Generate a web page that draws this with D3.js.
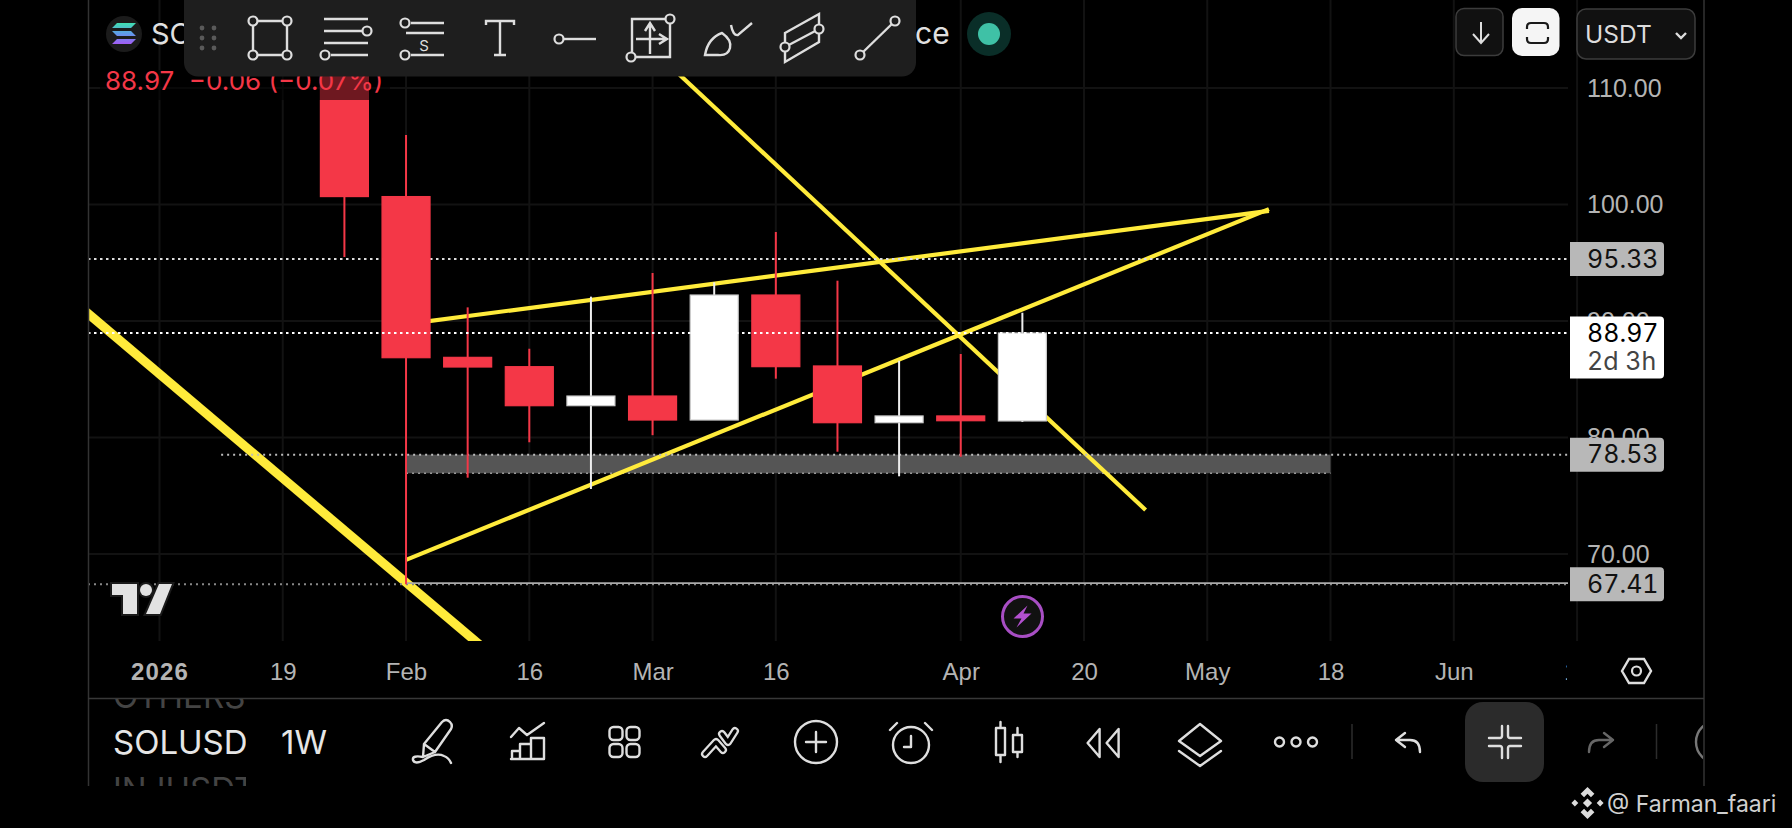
<!DOCTYPE html>
<html>
<meta charset="UTF-8">
    <head>
        <script src="https://d3js.org/d3.v7.min.js"></script>
        <style>
            body { margin: 0; background: #000; overflow: hidden; }
            svg { display: block; font-family: Inter, "Liberation Sans", sans-serif; }
            .price { font-variant-numeric: tabular-nums; font-size: 25px; }
        </style>
    </head>
    <body>
    </body>
    <script>
        // weekly candles
        let weeks  = ["2026-01-26","2026-02-02","2026-02-09","2026-02-16","2026-02-23","2026-03-02","2026-03-09","2026-03-16","2026-03-23","2026-03-30","2026-04-06","2026-04-13"];
        let opens  = [118.00,100.68,86.88,86.08,82.73,83.56,81.50,92.23,86.14,81.27,81.85,81.42];
        let highs  = [120.00,105.97,91.17,87.62,92.09,94.12,93.32,97.64,93.46,86.59,87.17,90.71];
        let lows   = [95.50,67.41,76.55,79.59,75.58,80.20,81.50,85.05,78.78,76.67,78.35,81.33];
        let closes = [100.68,86.85,86.05,82.73,83.56,81.50,92.23,86.08,81.27,81.85,81.44,88.97];

        let priceTicks = [70, 80, 90, 100, 110];
        let timeTicks  = ["2026-01-05","2026-01-19","2026-02-02","2026-02-16","2026-03-02","2026-03-16","2026-04-06","2026-04-20","2026-05-04","2026-05-18","2026-06-01","2026-06-15"];
        let timeLabels = ["2026","19","Feb","16","Mar","16","Apr","20","May","18","Jun","15"];

        // drawings: [date, price, date, price]
        let thinLines = [
            ["2026-02-02",89.73,"2026-05-11",99.45],
            ["2026-02-02",69.50,"2026-05-11",99.60],
            ["2026-03-02",113.30,"2026-04-27",73.78]
        ];
        let thickLine = ["2025-12-22",94.40,"2026-03-02",49.66];
        let zoneDates = ["2026-02-02","2026-05-18"];
        let zonePrices = [78.53,76.93];

        let lastPrice = 88.97;
        let level95 = 95.33, level78 = 78.53, level67 = 67.41;
        let level78Start = "2026-01-12";

        let parse = d3.utcParse("%Y-%m-%d");
        let red = "#f43747", yellow = "#ffeb3b", iconColor = "#dedede";

        let svg = d3.select("body").append("svg").attr("width", 1792).attr("height", 828);

        let x = d3.scaleUtc().domain([parse("2026-01-05"), parse("2026-06-01")]).range([159.5, 1453.8]);
        let y = d3.scaleLinear().domain([70, 110]).range([554, 88]);

        let defs = svg.append("defs");
        defs.append("clipPath").attr("id", "pane").append("rect").attr("x", 88).attr("y", 0).attr("width", 1616).attr("height", 641);
        defs.append("clipPath").attr("id", "axisClip").append("rect").attr("x", 88).attr("y", 642).attr("width", 1479).attr("height", 56);
        defs.append("clipPath").attr("id", "symbolClip").append("rect").attr("x", 100).attr("y", 699).attr("width", 146).attr("height", 87);
        defs.append("clipPath").attr("id", "rightClip").append("rect").attr("x", 1660).attr("y", 700).attr("width", 43).attr("height", 85);
        let fade = defs.append("linearGradient").attr("id", "solana").attr("x1", 0).attr("y1", 0).attr("x2", 0).attr("y2", 1);
        fade.append("stop").attr("offset", "0%").attr("stop-color", "#3fe0b0");
        fade.append("stop").attr("offset", "50%").attr("stop-color", "#5f9be8");
        fade.append("stop").attr("offset", "100%").attr("stop-color", "#a25cf5");

        function drawGrid() {
            let g = svg.append("g").attr("clip-path", "url(#pane)");
            g.selectAll(".vgrid").data(timeTicks).join("line")
                .attr("x1", d => x(parse(d))).attr("x2", d => x(parse(d)))
                .attr("y1", 0).attr("y2", 641)
                .attr("stroke", "#121212").attr("stroke-width", 2);
            g.selectAll(".hgrid").data(priceTicks).join("line")
                .attr("x1", 88).attr("x2", 1568)
                .attr("y1", d => y(d)).attr("y2", d => y(d))
                .attr("stroke", "#121212").attr("stroke-width", 2);
        }

        function drawDrawings() {
            let g = svg.append("g").attr("clip-path", "url(#pane)");

            // support zone
            g.append("rect")
                .attr("x", x(parse(zoneDates[0]))).attr("y", y(zonePrices[0]))
                .attr("width", x(parse(zoneDates[1])) - x(parse(zoneDates[0])))
                .attr("height", y(zonePrices[1]) - y(zonePrices[0]))
                .attr("fill", "#555");
            g.append("line")
                .attr("x1", x(parse(zoneDates[0]))).attr("x2", x(parse(zoneDates[1])))
                .attr("y1", y(zonePrices[1])).attr("y2", y(zonePrices[1]))
                .attr("stroke", "#999").attr("stroke-width", 1.5).attr("stroke-dasharray", "2 4");

            g.selectAll(".thin").data(thinLines).join("line")
                .attr("x1", d => x(parse(d[0]))).attr("y1", d => y(d[1]))
                .attr("x2", d => x(parse(d[2]))).attr("y2", d => y(d[3]))
                .attr("stroke", yellow).attr("stroke-width", 4.2);

            g.append("line")
                .attr("x1", x(parse(thickLine[0]))).attr("y1", y(thickLine[1]))
                .attr("x2", x(parse(thickLine[2]))).attr("y2", y(thickLine[3]))
                .attr("stroke", yellow).attr("stroke-width", 9);

            // horizontal levels, these sit under the candles
            g.append("line").attr("x1", 88).attr("x2", 1568).attr("y1", y(level95)).attr("y2", y(level95))
                .attr("stroke", "#ddd").attr("stroke-width", 2).attr("stroke-dasharray", "2.5 3.5");
            g.append("line").attr("x1", x(parse(level78Start))).attr("x2", 1568).attr("y1", y(level78)).attr("y2", y(level78))
                .attr("stroke", "#bbb").attr("stroke-width", 2).attr("stroke-dasharray", "2 4");
            g.append("line").attr("x1", 88).attr("x2", 1568).attr("y1", y(level67)).attr("y2", y(level67))
                .attr("stroke", "#888").attr("stroke-width", 2).attr("stroke-dasharray", "2 4");
            g.append("line").attr("x1", x(parse(weeks[1]))).attr("x2", 1568).attr("y1", y(level67) - 1).attr("y2", y(level67) - 1)
                .attr("stroke", "#aaa").attr("stroke-width", 1.6);
        }

        function drawCandles() {
            let candles = weeks.map((w, i) => ({ date: parse(w), open: opens[i], high: highs[i], low: lows[i], close: closes[i] }));
            let g = svg.append("g").attr("clip-path", "url(#pane)");
            let bodyWidth = 48;

            g.selectAll(".wick").data(candles).join("line")
                .attr("x1", d => x(d.date)).attr("x2", d => x(d.date))
                .attr("y1", d => y(d.high)).attr("y2", d => y(d.low))
                .attr("stroke", d => d.close >= d.open ? "#eee" : red)
                .attr("stroke-width", 2);

            g.selectAll(".body").data(candles).join("rect")
                .attr("x", d => x(d.date) - bodyWidth / 2)
                .attr("width", bodyWidth)
                .attr("y", d => y(Math.max(d.open, d.close)))
                .attr("height", d => Math.abs(y(d.open) - y(d.close)))
                .attr("fill", d => d.close >= d.open ? "#fff" : red)
                .attr("stroke", d => d.close >= d.open ? "#ccc" : red)
                .attr("stroke-width", 1.2);

            // last price goes over the candles
            g.append("line").attr("x1", 88).attr("x2", 1568).attr("y1", y(lastPrice)).attr("y2", y(lastPrice))
                .attr("stroke", "#fff").attr("stroke-width", 2).attr("stroke-dasharray", "2.5 3.5");
        }

        function drawAxes() {
            let priceAxis = d3.axisRight(y).tickValues(priceTicks).tickFormat(d3.format(".2f")).tickSize(0).tickPadding(0);
            let pg = svg.append("g").attr("transform", "translate(1587,0)").call(priceAxis);
            pg.select(".domain").remove();
            pg.selectAll("text").attr("fill", "#b4b4b4").attr("class", "price");

            let timeAxis = d3.axisBottom(x).tickValues(timeTicks.map(parse))
                .tickFormat((d, i) => timeLabels[i]).tickSize(0).tickPadding(0);
            let tg = svg.append("g").attr("clip-path", "url(#axisClip)")
                .append("g").attr("transform", "translate(0,663)").call(timeAxis);
            tg.select(".domain").remove();
            tg.selectAll("text").attr("fill", "#b4b4b4").attr("font-size", 24)
                .attr("font-weight", (d, i) => i == 0 ? 700 : 400)
                .attr("letter-spacing", (d, i) => i == 0 ? 1.2 : 0);

            // price tags on the scale
            let tags = [level95, lastPrice, level78, level67];
            let tagGroup = svg.append("g");
            tags.forEach(v => {
                let live = v == lastPrice;
                let h = live ? 62 : 34;
                let top = y(v) - (live ? 16.5 : 17);
                tagGroup.append("path")
                    .attr("d", `M1570,${top}H1660a4,4 0 0 1 4,4V${top + h - 4}a4,4 0 0 1 -4,4H1570Z`)
                    .attr("fill", live ? "#fff" : "#b8b8b8");
                tagGroup.append("text").attr("x", 1587).attr("y", y(v)).attr("dy", "0.35em").attr("class", "price")
                    .attr("fill", live ? "#000" : "#111").text(v.toFixed(2));
            });
            tagGroup.append("text").attr("x", 1587).attr("y", y(lastPrice) + 28.5).attr("dy", "0.35em").attr("class", "price")
                .attr("fill", "#444").text("2d 3h");
        }

        function drawFrame() {
            svg.append("line").attr("x1", 88.5).attr("x2", 88.5).attr("y1", 0).attr("y2", 786).attr("stroke", "#333").attr("stroke-width", 1.5);
            svg.append("line").attr("x1", 1704).attr("x2", 1704).attr("y1", 0).attr("y2", 786).attr("stroke", "#333").attr("stroke-width", 1.5);
            svg.append("line").attr("x1", 88).attr("x2", 1704).attr("y1", 698.5).attr("y2", 698.5).attr("stroke", "#383838").attr("stroke-width", 1.5);
        }

        function drawLegend() {
            // darkens the candle behind the ohlc text
            svg.append("rect").attr("x", 100).attr("y", 70).attr("width", 290).attr("height", 30).attr("fill", "#000").attr("opacity", 0.55);
            svg.append("text").attr("x", 105).attr("y", 90).attr("font-size", 26).attr("fill", red).attr("xml:space", "preserve")
                .text("88.97  −0.06 (−0.07%)");

            let logo = svg.append("g").attr("transform", "translate(124,34)");
            logo.append("circle").attr("r", 18).attr("fill", "#1b1b1b");
            logo.append("path").attr("d", "M-7,-11H12L7,-6H-12ZM-12,-3H7L12,2H-7ZM-7,5H12L7,10H-12Z").attr("fill", "url(#solana)");
            svg.append("text").attr("x", 151).attr("y", 44).attr("font-size", 29).attr("fill", "#e0e0e0").text("SOLUSDT");

            svg.append("text").attr("x", 915).attr("y", 44).attr("font-size", 30).attr("fill", "#e0e0e0").text("ce");
            svg.append("circle").attr("cx", 989).attr("cy", 34).attr("r", 22).attr("fill", "#0a2e28");
            svg.append("circle").attr("cx", 989).attr("cy", 34).attr("r", 11).attr("fill", "#3fc1a6");

            // tradingview logo
            let tv = svg.append("g").attr("fill", "#e2e2e2").attr("stroke", "#1a1a1a").attr("stroke-width", 4).attr("paint-order", "stroke");
            tv.append("path").attr("d", "M112,584H137V614H123V595H112Z");
            tv.append("circle").attr("cx", 146).attr("cy", 590).attr("r", 6);
            tv.append("path").attr("d", "M159,584H172L160,614H146Z");

            // lightning badge
            let bolt = svg.append("g").attr("transform", "translate(1022.5,616.5)");
            bolt.append("circle").attr("r", 20).attr("fill", "#111").attr("stroke", "#a84ec4").attr("stroke-width", 3);
            bolt.append("path").attr("d", "M5,-11L-9,2H-1L-6,11L9,-3H1Z").attr("fill", "#b350d0");

            // top right buttons
            svg.append("rect").attr("x", 1456).attr("y", 8.5).attr("width", 47).attr("height", 47).attr("rx", 8).attr("fill", "#111").attr("stroke", "#3c3c3c").attr("stroke-width", 1.5);
            svg.append("path").attr("d", "M1481,22V42M1473,34L1481,43L1489,34").attr("fill", "none").attr("stroke", iconColor).attr("stroke-width", 2);
            svg.append("rect").attr("x", 1512).attr("y", 8).attr("width", 47.5).attr("height", 48).attr("rx", 10).attr("fill", "#f5f5f5");
            svg.append("path").attr("d", "M1527,29V27Q1527,23 1531,23H1544Q1548,23 1548,27V29M1527,37V39Q1527,43 1531,43H1544Q1548,43 1548,39V37").attr("fill", "none").attr("stroke", "#1a1a1a").attr("stroke-width", 2.2);
            svg.append("rect").attr("x", 1577).attr("y", 9).attr("width", 118).attr("height", 50).attr("rx", 9).attr("fill", "#111").attr("stroke", "#3c3c3c").attr("stroke-width", 1.5);
            svg.append("text").attr("x", 1585).attr("y", 43).attr("font-size", 24.5).attr("fill", "#ddd").text("USDT");
            svg.append("path").attr("d", "M1676,33L1681,38L1686,33").attr("fill", "none").attr("stroke", "#ddd").attr("stroke-width", 2.4);
        }

        function drawTopToolbar() {
            let g = svg.append("g");
            g.append("rect").attr("x", 184).attr("y", -14).attr("width", 732).attr("height", 90.5).attr("rx", 14).attr("fill", "#1e1e1e");

            [[202,28],[214,28],[202,38],[214,38],[202,48],[214,48]].forEach(p =>
                g.append("circle").attr("cx", p[0]).attr("cy", p[1]).attr("r", 2.4).attr("fill", "#5a5a5a"));

            let lines = [
                "M253,21H287V55H253Z",
                "M324,19H368M324,31H362M324,43H368M331,55H368",
                "M411,23H444M406,33H444M411,55H444",
                "M486,25V21H514V25M500,21V55M494,55H506",
                "M564,39H596",
                "M632,19H670V57H632Z",
                "M650,54V24M645,31L650,23L655,31M636,39H665M659,34L667,39L659,44",
                "M705,55Q708,38 722,33Q732,40 730,48Q728,56 718,55ZM731,25Q733,36 738,35L752,23",
                "M785,33L819,14V42L785,62ZM785,47L819,29",
                "M860,55L895,21"
            ];
            g.selectAll(".tool").data(lines).join("path")
                .attr("d", d => d).attr("fill", "none").attr("stroke", iconColor).attr("stroke-width", 2.4);

            let handles = [[253,21],[287,21],[253,55],[287,55],[367,31],[325,55],[405,23],[405,55],[559,39],[670,19],[631,57],[785,47],[819,29],[860,55],[895,21]];
            g.selectAll(".handle").data(handles).join("circle")
                .attr("cx", d => d[0]).attr("cy", d => d[1]).attr("r", 4.5)
                .attr("fill", "#1e1e1e").attr("stroke", iconColor).attr("stroke-width", 2.2);

            g.append("text").attr("x", 424).attr("y", 51).attr("text-anchor", "middle").attr("font-size", 15).attr("fill", iconColor).text("S");
        }

        function icon(cx, paths, color) {
            return svg.append("g").attr("transform", `translate(${cx},742)`)
                .append("path").attr("d", paths).attr("fill", "none")
                .attr("stroke", color || iconColor).attr("stroke-width", 2.4)
                .attr("stroke-linecap", "round").attr("stroke-linejoin", "round");
        }

        function drawBottomBar() {
            let clip = svg.append("g").attr("clip-path", "url(#symbolClip)");
            clip.append("text").attr("x", 113).attr("y", 708).attr("font-size", 33).attr("fill", "#444").text("OTHERS");
            clip.append("text").attr("x", 113).attr("y", 754).attr("font-size", 33).attr("fill", "#e6e6e6").text("SOLUSDT");
            clip.append("text").attr("x", 113).attr("y", 801).attr("font-size", 33).attr("fill", "#444").text("INJUSDT");
            svg.append("text").attr("x", 281).attr("y", 754).attr("font-size", 33).attr("fill", "#e6e6e6").text("1W");

            icon(432, "M10,-20Q14,-24 18,-20Q21,-17 19,-13L3,10L-9,15L-8,2ZM-8,2L3,10M-9,15Q-20,13 -19,18Q-17,23 -8,18Q4,10 12,14Q17,16 19,21");
            icon(528, "M-17,-5L-9,-14L-1,-7L16,-19M-16,17V9H-8V17M-8,17V2H3V17M3,17V-4H16V17H-17");
            icon(624.5, "M-15,-11a4,4 0 0 1 4,-4h5a4,4 0 0 1 4,4v5a4,4 0 0 1 -4,4h-5a4,4 0 0 1 -4,-4ZM2,-11a4,4 0 0 1 4,-4h5a4,4 0 0 1 4,4v5a4,4 0 0 1 -4,4h-5a4,4 0 0 1 -4,-4ZM-15,6a4,4 0 0 1 4,-4h5a4,4 0 0 1 4,4v5a4,4 0 0 1 -4,4h-5a4,4 0 0 1 -4,-4ZM2,6a4,4 0 0 1 4,-4h5a4,4 0 0 1 4,4v5a4,4 0 0 1 -4,4h-5a4,4 0 0 1 -4,-4Z");

            // the double tick is a wide stroke with a black one inside it
            let tick = "M-15,12L-4,0L3,8M2,-8L8,0L15,-11";
            icon(720, tick).attr("stroke-width", 8);
            icon(720, tick, "#000").attr("stroke-width", 3.5);

            icon(816, "M0,-21A21,21 0 1 1 0,21A21,21 0 1 1 0,-21M0,-10V10M-10,0H10");
            icon(911, "M0,-15A18,18 0 1 1 0,21A18,18 0 1 1 0,-15M0,-6V5H-7M-21,-12L-14,-19M14,-19L21,-12");
            icon(1009, "M-13,-14H-4V13H-13ZM-8.5,-20V-14M-8.5,13V20M4,-7H13V10H4ZM8.5,-14V-7M8.5,10V15");
            icon(1103.6, "M-4,-13L-16,1L-4,15ZM15,-13L3,1L15,15Z");
            icon(1200, "M0,-18L21,-1L0,14L-21,-1ZM-21,9L0,24L21,9");
            icon(1296, "M-12,0a4.5,4.5 0 1 1 -9,0a4.5,4.5 0 1 1 9,0M4.5,0a4.5,4.5 0 1 1 -9,0a4.5,4.5 0 1 1 9,0M21,0a4.5,4.5 0 1 1 -9,0a4.5,4.5 0 1 1 9,0");
            svg.append("line").attr("x1", 1352).attr("x2", 1352).attr("y1", 724).attr("y2", 759).attr("stroke", "#2c2c2c").attr("stroke-width", 1.5);
            icon(1408, "M-3,-9L-12,-2L-3,5M-12,-2H2Q12,-2 12,10");

            svg.append("rect").attr("x", 1465).attr("y", 702).attr("width", 79).attr("height", 80).attr("rx", 18).attr("fill", "#2b2b2b");
            icon(1505, "M-3,-16V-6Q-3,-4 -5,-4H-16M3,-16V-6Q3,-4 5,-4H16M-16,4H-5Q-3,4 -3,6V16M16,4H5Q3,4 3,6V16");

            icon(1601, "M3,-9L12,-2L3,5M12,-2H-2Q-12,-2 -12,10", "#666");
            svg.append("line").attr("x1", 1656.5).attr("x2", 1656.5).attr("y1", 724).attr("y2", 759).attr("stroke", "#2c2c2c").attr("stroke-width", 1.5);
            svg.append("g").attr("clip-path", "url(#rightClip)").append("circle")
                .attr("cx", 1717).attr("cy", 742).attr("r", 21).attr("fill", "none").attr("stroke", "#777").attr("stroke-width", 2.4);

            // settings hexagon on the time scale
            svg.append("path").attr("d", "M1622,671L1629,659H1644L1651,671L1644,683H1629Z").attr("fill", "none").attr("stroke", iconColor).attr("stroke-width", 2.4);
            svg.append("circle").attr("cx", 1636.5).attr("cy", 671).attr("r", 4.5).attr("fill", "none").attr("stroke", iconColor).attr("stroke-width", 2.2);

            // watermark
            let w = svg.append("g").attr("transform", "translate(1587.5,803) scale(1.15)").attr("fill", "#dcdcdc");
            w.append("path").attr("d", "M0,-14L6,-8L3,-5L0,-8L-3,-5L-6,-8ZM0,14L6,8L3,5L0,8L-3,5L-6,8ZM-14,0L-11,-3L-8,0L-11,3ZM14,0L11,-3L8,0L11,3ZM0,-4L4,0L0,4L-4,0Z");
            svg.append("text").attr("x", 1607).attr("y", 812).attr("font-size", 23).attr("fill", "#d0d0d0").text("@ Farman_faari");
        }

        function init() {
            drawGrid();
            drawDrawings();
            drawCandles();
            drawAxes();
            drawFrame();
            drawLegend();
            drawTopToolbar();
            drawBottomBar();
        }

        init();
    </script>
</html>
